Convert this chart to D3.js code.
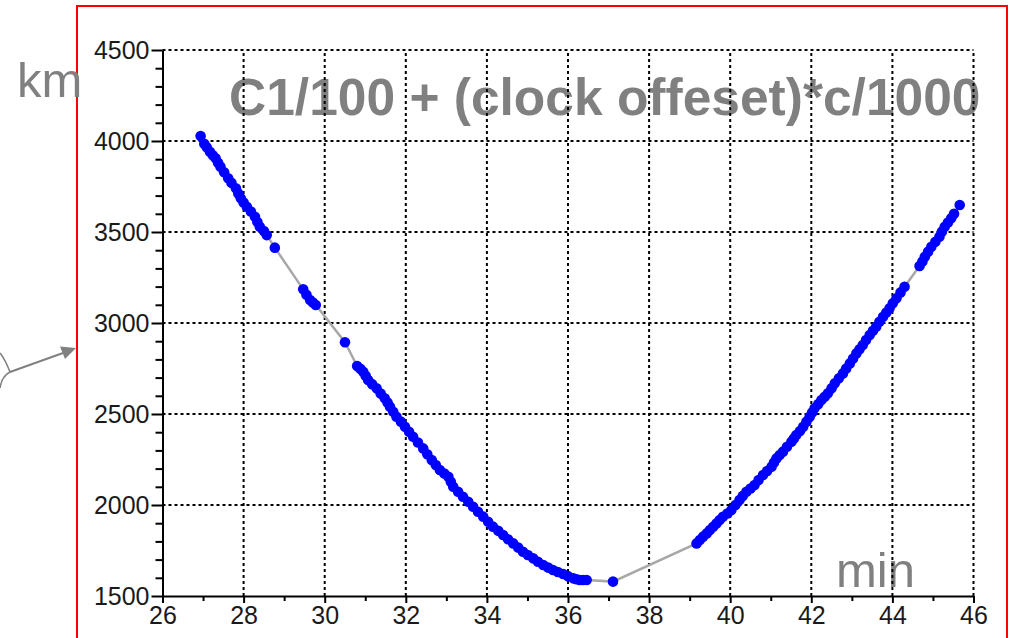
<!DOCTYPE html>
<html>
<head>
<meta charset="utf-8">
<script src="https://cdn.jsdelivr.net/npm/d3@7"></script>
<style>
  body { margin: 0; background: #fff; }
  svg { display: block; }
</style>
</head>
<body>
<div id="chart"></div>
<script>
// time in minutes, range in km
var minutes = [
  26.94, 27.03, 27.09, 27.17, 27.24, 27.31, 27.37, 27.43, 27.52, 27.62, 27.70, 27.81,
  27.87, 27.93, 28.00, 28.08, 28.18, 28.28, 28.34, 28.40, 28.50, 28.57, 28.77,
  29.47, 29.55, 29.64, 29.71, 29.78,
  30.50, 30.80, 30.88, 30.95, 31.01, 31.07, 31.17, 31.28, 31.38, 31.48, 31.55, 31.61,
  31.69, 31.77, 31.88, 31.98, 32.08, 32.18, 32.30, 32.43, 32.53, 32.64, 32.74, 32.84,
  32.95, 33.05, 33.11, 33.17, 33.29, 33.41, 33.54, 33.66, 33.78, 33.91, 34.03, 34.15,
  34.28, 34.40, 34.52, 34.65, 34.77, 34.89, 35.01, 35.14, 35.26, 35.39, 35.51, 35.63,
  35.75, 35.88, 36.00, 36.13, 36.21, 36.29, 36.37, 36.46,
  37.11,
  39.17, 39.25, 39.33, 39.42, 39.50, 39.58, 39.66, 39.74, 39.82, 39.93, 40.03, 40.13,
  40.23, 40.31, 40.40, 40.50, 40.60, 40.70, 40.81, 40.91, 41.02, 41.08, 41.14, 41.22,
  41.30, 41.40, 41.51, 41.57, 41.63, 41.72, 41.80, 41.88, 41.96, 42.02, 42.08, 42.17,
  42.25, 42.33, 42.41, 42.50, 42.58, 42.68, 42.78, 42.86, 42.95, 43.03, 43.11, 43.19,
  43.27, 43.35, 43.44, 43.52, 43.60, 43.68, 43.77, 43.85, 43.93, 44.01, 44.10, 44.20,
  44.30,
  44.67, 44.74, 44.80, 44.88, 44.96, 45.06, 45.16, 45.22, 45.29, 45.37, 45.45, 45.52,
  45.66
];
var km = [
  4027, 3985, 3965, 3941, 3922, 3905, 3880, 3859, 3828, 3795, 3770, 3740,
  3712, 3685, 3662, 3639, 3612, 3584, 3555, 3529, 3505, 3483, 3414,
  3185, 3155, 3126, 3112, 3099,
  2894, 2764, 2748, 2732, 2710, 2687, 2664, 2641, 2613, 2586, 2563, 2540,
  2512, 2485, 2458, 2430, 2402, 2375, 2343, 2311, 2279, 2247, 2220, 2192,
  2173, 2155, 2128, 2100, 2073, 2045, 2018, 1990, 1963, 1936, 1908, 1881,
  1858, 1835, 1812, 1789, 1766, 1743, 1725, 1707, 1688, 1670, 1656, 1643,
  1632, 1621, 1609, 1597, 1592, 1588, 1588, 1588,
  1579,
  1789, 1808, 1826, 1844, 1862, 1880, 1899, 1917, 1935, 1953, 1972, 2000,
  2027, 2050, 2073, 2091, 2110, 2137, 2165, 2187, 2210, 2233, 2256, 2275,
  2293, 2320, 2348, 2366, 2384, 2407, 2430, 2458, 2485, 2508, 2531, 2554,
  2577, 2595, 2614, 2641, 2669, 2696, 2723, 2750, 2778, 2805, 2833, 2856,
  2879, 2906, 2934, 2957, 2980, 3007, 3034, 3058, 3081, 3108, 3136, 3168,
  3199,
  3313, 3338, 3364, 3392, 3419, 3446, 3474, 3502, 3529, 3552, 3575, 3600,
  3648
];
var xTicks = [26, 28, 30, 32, 34, 36, 38, 40, 42, 44, 46];
var yTicks = [1500, 2000, 2500, 3000, 3500, 4000, 4500];
var titleText = "C1/100 + (clock offeset)*c/1000";
var yUnit = "km";
var xUnit = "min";

var width = 1009, height = 638;

var svg = d3.select("#chart").append("svg")
    .attr("width", width)
    .attr("height", height);

var x = d3.scaleLinear().domain([26, 46]).range([162.5, 973.5]);
var y = d3.scaleLinear().domain([1500, 4500]).range([596, 50]);

var points = minutes.map(function (m, i) { return { t: m, v: km[i] }; });

//red frame
svg.append("rect")
    .attr("x", 77).attr("y", 6)
    .attr("width", 930).attr("height", 660)
    .attr("fill", "none")
    .attr("stroke", "#ff0000")
    .attr("stroke-width", 2);

//brace + arrow on the left
var gray = "#808080";
svg.append("path")
    .attr("d", "M0,353 C5,359 8,367 10,372 C4,375 1,381 0,388")
    .attr("fill", "none").attr("stroke", gray).attr("stroke-width", 1.5);
svg.append("line")
    .attr("x1", 10).attr("y1", 372).attr("x2", 63).attr("y2", 353)
    .attr("stroke", gray).attr("stroke-width", 2);
svg.append("path")
    .attr("d", "M76,348 L60,346.5 L65,359 Z")
    .attr("fill", gray);

//texts (grid lies over them)
var font = "'Liberation Sans', Arial, sans-serif";
svg.append("text")
    .attr("x", 229).attr("y", 115)
    .attr("font-family", font).attr("font-weight", "bold").attr("font-size", 51.5)
    .attr("fill", gray)
    .text(titleText);
svg.append("text")
    .attr("x", 17).attr("y", 97)
    .attr("font-family", font).attr("font-size", 49)
    .attr("fill", gray)
    .text(yUnit);
svg.append("text")
    .attr("x", 836).attr("y", 587)
    .attr("font-family", font).attr("font-size", 49)
    .attr("fill", gray)
    .text(xUnit);

//grid
var grid = svg.append("g").attr("class", "grid")
    .attr("stroke", "#000").attr("stroke-width", 2).attr("stroke-dasharray", "3,3");
xTicks.slice(1).forEach(function (t) {
    grid.append("line")
        .attr("x1", x(t)).attr("x2", x(t))
        .attr("y1", y(1500)).attr("y2", y(4500));
});
yTicks.slice(1).forEach(function (t) {
    grid.append("line")
        .attr("x1", x(26)).attr("x2", x(46))
        .attr("y1", y(t)).attr("y2", y(t));
});

//axes
var xAxis = d3.axisBottom(x).tickValues(xTicks).tickSize(7).tickSizeOuter(0).tickPadding(3)
    .tickFormat(d3.format("d"));
var xMinor = d3.axisBottom(x).tickValues(d3.range(27, 46, 2)).tickSize(5).tickFormat("");
var yAxis = d3.axisLeft(y).tickValues(yTicks).tickSize(11).tickSizeOuter(0).tickPadding(2)
    .tickFormat(d3.format("d"));
var yMinor = d3.axisLeft(y).tickValues(d3.range(1600, 4500, 100).filter(function (v) { return v % 500 != 0; }))
    .tickSize(7).tickFormat("");

function styleAxis(g) {
    g.select(".domain").attr("stroke", "#000").attr("stroke-width", 2);
    g.selectAll(".tick line").attr("stroke", "#000").attr("stroke-width", 2);
    g.selectAll(".tick text")
        .attr("font-family", font).attr("font-size", 25).attr("fill", "#1a1a1a");
}

svg.append("g").attr("transform", "translate(0," + y(1500) + ")").call(xMinor).call(styleAxis)
    .select(".domain").remove();
svg.append("g").attr("transform", "translate(" + x(26) + ",0)").call(yMinor).call(styleAxis)
    .select(".domain").remove();
svg.append("g").attr("transform", "translate(0," + y(1500) + ")").call(xAxis).call(styleAxis);
svg.append("g").attr("transform", "translate(" + x(26) + ",0)").call(yAxis).call(styleAxis);

//data line + points
var line = d3.line()
    .x(function (d) { return x(d.t); })
    .y(function (d) { return y(d.v); });
svg.append("path")
    .datum(points)
    .attr("d", line)
    .attr("fill", "none")
    .attr("stroke", "#a8a8a8")
    .attr("stroke-width", 2.5);
svg.append("g").selectAll("circle")
    .data(points)
    .enter().append("circle")
    .attr("cx", function (d) { return x(d.t); })
    .attr("cy", function (d) { return y(d.v); })
    .attr("r", 5.3)
    .attr("fill", "#0000ff");
</script>
</body>
</html>
